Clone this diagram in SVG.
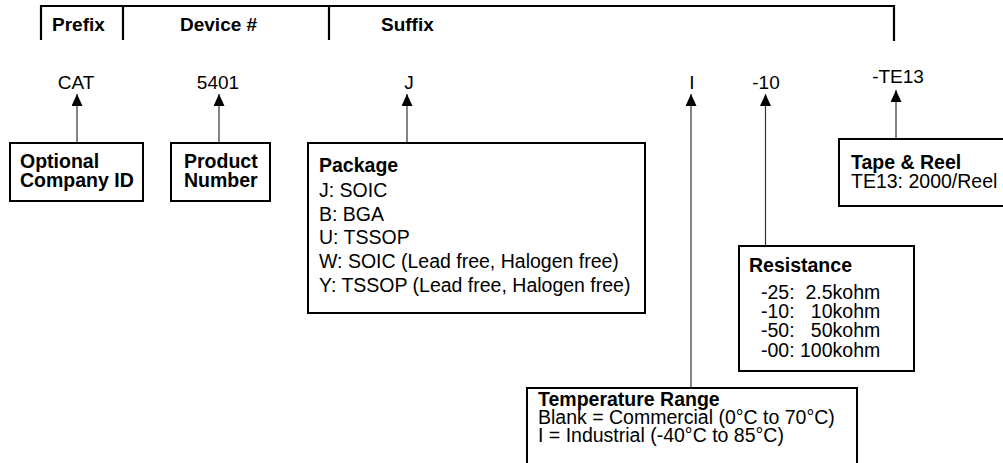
<svg xmlns="http://www.w3.org/2000/svg" width="1003" height="463" viewBox="0 0 1003 463">
<style>
text{font-family:"Liberation Sans",Arial,sans-serif;fill:#000}
.hdr{font-size:19px;font-weight:bold}
.code{font-size:19px;text-anchor:middle}
.b{font-size:19.5px;font-weight:bold}
.t{font-size:19.5px}
.box{fill:#fff;stroke:#000;stroke-width:2}
.br{fill:none;stroke:#000;stroke-width:2.2}
.con{stroke:#333;stroke-width:1.2;fill:none}
</style>
<defs>
<marker id="ah" markerUnits="userSpaceOnUse" markerWidth="12" markerHeight="11" refX="12" refY="5.5" orient="auto">
<path d="M0,0 L12,5.5 L0,11 z" fill="#000"/>
</marker>
</defs>
<rect width="1003" height="463" fill="#fff"/>
<g id="header">
<path class="br" d="M41,40 V6 H894 V41"/>
<path class="br" d="M123,6 V40 M329,6 V40"/>
<text class="hdr" x="52" y="31">Prefix</text>
<text class="hdr" x="180" y="31">Device #</text>
<text class="hdr" x="381" y="31">Suffix</text>
</g>
<g id="codes">
<text class="code" x="76" y="89">CAT</text>
<text class="code" x="218" y="89">5401</text>
<text class="code" x="409" y="89">J</text>
<text class="code" x="692" y="89">I</text>
<text class="code" x="766" y="89">-10</text>
<text class="code" x="898" y="83">-TE13</text>
</g>
<g id="connectors">
<line class="con" x1="77" y1="143" x2="77" y2="94" marker-end="url(#ah)"/>
<line class="con" x1="219" y1="143" x2="219" y2="94" marker-end="url(#ah)"/>
<line class="con" x1="407" y1="143" x2="407" y2="94" marker-end="url(#ah)"/>
<line class="con" x1="691" y1="388" x2="691" y2="94" marker-end="url(#ah)"/>
<line class="con" x1="765.5" y1="246" x2="765.5" y2="94" marker-end="url(#ah)"/>
<line class="con" x1="896" y1="139" x2="896" y2="90" marker-end="url(#ah)"/>
</g>
<g id="company-id">
<rect class="box" x="10" y="143" width="133" height="58"/>
<text class="b" x="20" y="168">Optional</text>
<text class="b" x="20" y="187">Company ID</text>
</g>
<g id="product-number">
<rect class="box" x="171" y="143" width="99" height="58"/>
<text class="b" x="184" y="168">Product</text>
<text class="b" x="184" y="187">Number</text>
</g>
<g id="package">
<rect class="box" x="308" y="143" width="337" height="170"/>
<text class="b" x="319" y="172">Package</text>
<text class="t" x="319" y="197">J: SOIC</text>
<text class="t" x="319" y="221">B: BGA</text>
<text class="t" x="319" y="244">U: TSSOP</text>
<text class="t" x="319" y="268">W: SOIC (Lead free, Halogen free)</text>
<text class="t" x="319" y="292">Y: TSSOP (Lead free, Halogen free)</text>
</g>
<g id="tape-reel">
<rect class="box" x="839" y="139" width="170" height="67"/>
<text class="b" x="851" y="169">Tape &amp; Reel</text>
<text class="t" x="851" y="188">TE13: 2000/Reel</text>
</g>
<g id="resistance">
<rect class="box" x="739" y="246" width="175" height="125"/>
<text class="b" x="749" y="272">Resistance</text>
<text class="t" x="761" y="299" xml:space="preserve">-25:  2.5kohm</text>
<text class="t" x="761" y="318" xml:space="preserve">-10:   10kohm</text>
<text class="t" x="761" y="337" xml:space="preserve">-50:   50kohm</text>
<text class="t" x="761" y="357" xml:space="preserve">-00: 100kohm</text>
</g>
<g id="temperature">
<rect class="box" x="527" y="388" width="330" height="85"/>
<text class="b" x="538" y="406">Temperature Range</text>
<text class="t" x="538" y="424">Blank = Commercial (0°C to 70°C)</text>
<text class="t" x="538" y="442">I = Industrial (-40°C to 85°C)</text>
</g>
</svg>
